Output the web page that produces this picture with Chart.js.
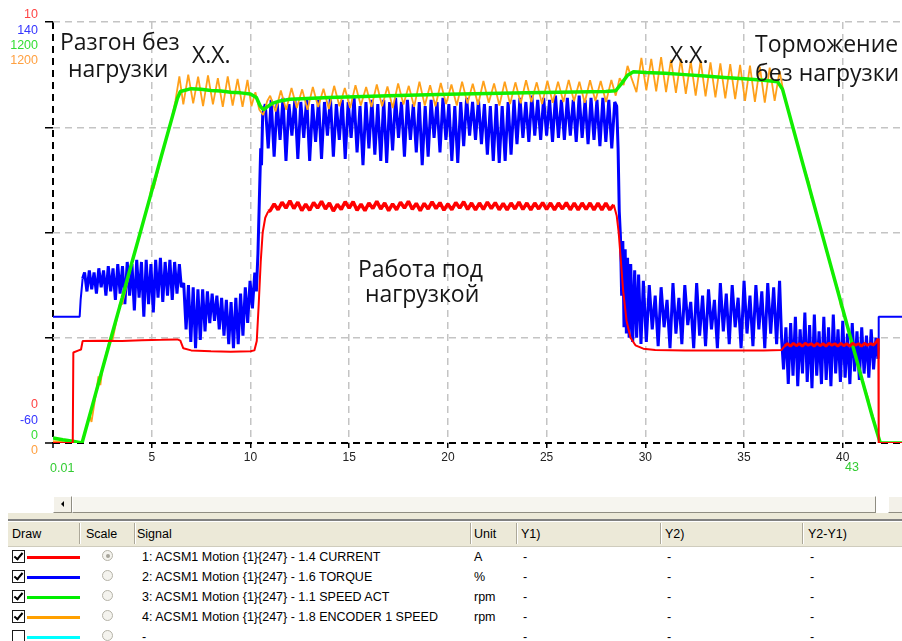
<!DOCTYPE html>
<html>
<head>
<meta charset="utf-8">
<script src="https://cdn.jsdelivr.net/npm/chart.js@4.4.1/dist/chart.umd.min.js"></script>
<style>
body { margin: 0; background: #fff; }
#wrap { position: relative; width: 902px; height: 641px; overflow: hidden; font-family: "Liberation Sans", Arial, sans-serif; }
#c { position: absolute; left: 0; top: 0; }
.note { position: absolute; font-family: "Open Sans", sans-serif; font-size: 23px; line-height: 23px; color: #161616; white-space: nowrap; }
#sbL, #sbT, #sbR { position: absolute; top: 496px; height: 15px; background: #f3f1e9; border: 1px solid #fff; border-right-color: #8f8d82; border-bottom-color: #8f8d82; }
#sbL { left: 53px; width: 17px; }
#sbL:after { content: ''; position: absolute; left: 7px; top: 4px; border-top: 3.5px solid transparent; border-bottom: 3.5px solid transparent; border-right: 3.5px solid #000; }
#sbT { left: 72px; width: 802px; background: #f6f5ef; }
#sbR { left: 888px; width: 17px; }
#strip { position: absolute; left: 8px; top: 513px; width: 894px; height: 6px; background: #ece9d8; }
#hline { position: absolute; left: 8px; top: 519px; width: 894px; height: 2px; background: #808080; }
#hdr { position: absolute; left: 8px; top: 521px; width: 894px; height: 24px; background: #ece9d8; border-top: 1px solid #fff; border-bottom: 1px solid #cfccbd; }
.sep { position: absolute; top: 523px; width: 1px; height: 21px; background: #aca899; border-right: 1px solid #fff; }
.cell { position: absolute; font-size: 12.5px; line-height: 14px; color: #000; white-space: nowrap; }
.chk { position: absolute; left: 12px; width: 11px; height: 11px; border: 1.5px solid #1a1a1a; background: #fff; }
.chk.on:after { content: ''; position: absolute; left: 3px; top: 0px; width: 3px; height: 7px; border: solid #000; border-width: 0 2px 2px 0; transform: rotate(40deg); }
.sw { position: absolute; left: 27px; width: 53px; height: 3px; }
.rad { position: absolute; left: 102px; width: 9px; height: 9px; border-radius: 50%; border: 1px solid #b5b3a8; background: #f4f3ee; }
.rad.on:after { content: ''; position: absolute; left: 2.5px; top: 2.5px; width: 4px; height: 4px; border-radius: 50%; background: #a6a49a; }
</style>
</head>
<body>
<div id="wrap">
<canvas id="c" width="902" height="480"></canvas>

<div class="note" style="left:60px;top:30px">Разгон без</div>
<div class="note" style="left:68px;top:57px">нагрузки</div>
<div class="note" style="left:192px;top:43px">Х.Х.</div>
<div class="note" style="left:670px;top:43px">Х.Х.</div>
<div class="note" style="left:755px;top:32px">Торможение</div>
<div class="note" style="left:755px;top:61px">без нагрузки</div>
<div class="note" style="left:358px;top:257px">Работа под</div>
<div class="note" style="left:365px;top:282px">нагрузкой</div>

<div id="sbL"></div><div id="sbT"></div><div id="sbR"></div>
<div id="strip"></div><div id="hline"></div><div id="hdr"></div>
<div id="table"></div>
</div>

<script>
// axis ranges of the four channels (bottom / top labels)
const currentRange = [0, 10];
const torqueRange = [-60, 140];
const speedRange = [0, 1200];
const encoderRange = [0, 1200];
const currentTicks = [0, 2.5, 5, 7.5, 10];
const xTicks = [0, 5, 10, 15, 20, 25, 30, 35, 40];
const xRange = [0, 43];
const xRangeLabels = ['0.01', '43'];

// table
const headers = ['Draw', 'Scale', 'Signal', 'Unit', 'Y1)', 'Y2)', 'Y2-Y1)'];
const signalNames = [
  '1: ACSM1 Motion {1}{247} - 1.4 CURRENT',
  '2: ACSM1 Motion {1}{247} - 1.6 TORQUE',
  '3: ACSM1 Motion {1}{247} - 1.1 SPEED ACT',
  '4: ACSM1 Motion {1}{247} - 1.8 ENCODER 1 SPEED',
  '-'
];
const signalUnits = ['A', '%', 'rpm', 'rpm', ''];
const signalColors = ['#ff0000', '#0000ff', '#00ee00', '#ffa000', '#00ffff'];
const signalDrawn = [true, true, true, true, false];

// 1.4 CURRENT, A  [time s, value]
const currentData = [
  [0,0],[1.0,0],[1.03,2.15],[1.3,2.2],[1.42,2.22],[1.5,2.42],[2.5,2.43],[3.5,2.42],[4.5,2.44],[5.5,2.45],
  [6.3,2.46],[6.45,2.43],[6.6,2.25],[7,2.2],[8,2.18],[9,2.17],[10,2.18],[10.2,2.2],[10.32,2.42],[10.42,3.3],
  [10.52,4.3],[10.62,5.0],[10.75,5.35],[10.9,5.5],
  [11.0,5.52],[11.2,5.68],[11.4,5.54],[11.6,5.72],[11.8,5.58],[12.0,5.75],[12.2,5.57],[12.4,5.72],[12.6,5.52],[12.8,5.67],
  [13.0,5.53],[13.2,5.71],[13.4,5.58],[13.6,5.74],[13.8,5.56],[14.0,5.7],[14.2,5.51],[14.4,5.67],[14.6,5.55],[14.8,5.73],
  [15.0,5.58],[15.2,5.73],[15.4,5.53],[15.6,5.67],[15.8,5.52],[16.0,5.7],[16.2,5.57],[16.4,5.74],[16.6,5.56],[16.8,5.7],
  [17.0,5.52],[17.2,5.68],[17.4,5.54],[17.6,5.72],[17.8,5.58],[18.0,5.74],[18.2,5.55],[18.4,5.69],[18.6,5.52],[18.8,5.69],
  [19.0,5.56],[19.2,5.73],[19.4,5.57],[19.6,5.71],[19.8,5.53],[20.0,5.68],[20.2,5.54],[20.4,5.71],[20.6,5.58],[20.8,5.73],
  [21.0,5.55],[21.2,5.7],[21.4,5.54],[21.6,5.7],[21.8,5.55],[22.0,5.72],[22.2,5.57],[22.4,5.71],[22.6,5.54],[22.8,5.69],
  [23.0,5.54],[23.2,5.7],[23.4,5.56],[23.6,5.72],[23.8,5.55],[24.0,5.7],[24.2,5.54],[24.4,5.7],[24.6,5.56],[24.8,5.71],
  [25.0,5.55],[25.2,5.7],[25.4,5.54],[25.6,5.7],[25.8,5.56],[26.0,5.71],[26.2,5.54],[26.4,5.7],[26.6,5.54],[26.8,5.7],
  [27.0,5.55],[27.2,5.7],[27.4,5.54],[27.6,5.7],[27.8,5.54],[28.0,5.7],[28.2,5.54],[28.4,5.66],
  [28.55,5.4],[28.65,5.0],[28.75,4.4],[28.88,3.6],[29.05,2.9],[29.25,2.5],[29.5,2.32],[29.9,2.24],[30.5,2.21],[32,2.2],
  [34,2.2],[36,2.2],[36.9,2.21],[37.05,2.3],
  [37.2,2.36],[37.35,2.3],[37.5,2.37],[37.65,2.31],[37.8,2.36],[37.95,2.3],[38.1,2.37],[38.25,2.32],[38.4,2.36],[38.55,2.3],
  [38.7,2.37],[38.85,2.31],[39,2.36],[39.15,2.3],[39.3,2.37],[39.45,2.32],[39.6,2.36],[39.75,2.3],[39.9,2.37],[40.05,2.31],
  [40.2,2.36],[40.35,2.3],[40.5,2.37],[40.65,2.32],[40.8,2.36],[40.95,2.3],[41.1,2.37],[41.25,2.32],[41.4,2.36],[41.55,2.33],
  [41.7,2.4],[41.8,2.48],[41.82,0],[43,0]
];

// 1.6 TORQUE, %
const torqueData = [
  [0,0],[1.35,0],[1.4,8],[1.5,18],
  [1.6,21],[1.72,12],[1.84,22],[1.96,13],[2.08,21],[2.2,11],[2.32,23],[2.44,14],[2.56,22],[2.68,10],[2.8,24],[2.92,12],
  [3.04,23],[3.16,8],[3.28,25],[3.4,11],[3.52,24],[3.64,6],[3.76,26],[3.88,10],[4.0,25],[4.12,3],[4.24,27],[4.36,9],
  [4.48,26],[4.6,0],[4.72,27],[4.84,6],[4.96,25],[5.08,2],[5.2,27],[5.32,9],[5.44,28],[5.56,7],[5.68,26],[5.8,10],
  [5.92,27],[6.04,8],[6.16,26],[6.28,11],[6.4,25],
  [6.5,14],[6.62,16],[6.74,-6],[6.86,15],[6.98,-12],[7.1,14],[7.22,-15],[7.34,13],[7.46,-11],[7.58,13],[7.7,-7],
  [7.82,12],[7.94,-3],[8.06,11],[8.18,-2],[8.3,10],[8.42,-6],[8.54,9],[8.66,-9],[8.78,8],[8.9,-13],[9.02,7],[9.14,-15],
  [9.26,9],[9.38,-13],[9.5,11],[9.62,-9],[9.74,14],[9.86,-3],[9.98,17],[10.1,4],[10.22,21],[10.3,12],
  [10.38,30],[10.45,55],[10.52,80],[10.56,72],[10.62,96],
  [10.75,101],[10.9,80],[11.05,103],[11.2,76],[11.35,102],[11.5,84],[11.65,104],[11.8,74],[11.95,101],[12.1,86],
  [12.25,103],[12.4,75],[12.55,102],[12.7,85],[12.85,104],[13.0,74],[13.15,101],[13.3,83],[13.45,103],[13.6,75],
  [13.75,102],[13.9,86],[14.05,104],[14.2,76],[14.35,101],[14.5,84],[14.65,103],[14.8,75],[14.95,102],[15.1,85],
  [15.25,104],[15.4,78],[15.55,100],[15.7,72],[15.85,102],[16.0,80],[16.15,103],[16.3,77],[16.45,101],[16.6,74],
  [16.75,103],[16.9,73],[17.05,102],[17.2,79],[17.35,104],[17.5,85],[17.65,102],[17.8,76],[17.95,103],[18.1,84],
  [18.25,101],[18.4,78],[18.55,102],[18.7,72],[18.85,100],[19.0,76],[19.15,103],[19.3,85],[19.45,102],[19.6,78],
  [19.75,104],[19.9,84],[20.05,101],[20.2,74],[20.35,100],[20.5,73],[20.65,102],[20.8,81],[20.95,104],[21.1,86],
  [21.25,102],[21.4,84],[21.55,103],[21.7,82],[21.85,101],[22.0,77],[22.15,100],[22.3,74],[22.45,101],[22.6,73],
  [22.75,100],[22.9,74],[23.05,102],[23.2,77],[23.35,103],[23.5,82],[23.65,104],[23.8,85],[23.95,102],[24.1,83],
  [24.25,105],[24.4,86],[24.55,103],[24.7,84],[24.85,104],[25.0,86],[25.15,103],[25.3,83],[25.45,105],[25.6,85],
  [25.75,103],[25.9,84],[26.05,104],[26.2,86],[26.35,103],[26.5,83],[26.65,105],[26.8,85],[26.95,103],[27.1,82],
  [27.25,104],[27.4,84],[27.55,103],[27.7,81],[27.85,104],[28.0,83],[28.15,103],[28.3,80],[28.45,102],
  [28.55,100],[28.62,80],[28.68,50],[28.74,38],[28.8,10],[28.86,36],[28.92,-5],[28.98,32],[29.04,-8],[29.1,28],
  [29.18,-10],[29.26,25],[29.36,-12],[29.46,22],[29.56,-10],[29.66,20],[29.78,-13],[29.9,17],
  [30.05,-12],[30.2,15],[30.35,-6],[30.5,10],[30.65,-14],[30.8,14],[30.95,-5],[31.1,8],[31.25,-15],[31.4,16],
  [31.55,-8],[31.7,9],[31.85,-13],[32.0,15],[32.15,-4],[32.3,7],[32.45,-15],[32.6,16],[32.75,-9],[32.9,10],
  [33.05,-14],[33.2,13],[33.35,-6],[33.5,8],[33.65,-15],[33.8,16],[33.95,-7],[34.1,11],[34.25,-13],[34.4,15],
  [34.55,-5],[34.7,9],[34.85,-15],[35.0,17],[35.15,-8],[35.3,10],[35.45,-14],[35.6,15],[35.75,-6],[35.9,12],
  [36.05,-15],[36.2,16],[36.35,-8],[36.5,14],[36.65,-13],[36.8,17],[36.9,-10],
  [37.0,-25],[37.12,-5],[37.24,-32],[37.36,-3],[37.48,-28],[37.6,0],[37.72,-33],[37.84,-6],[37.96,-27],[38.08,2],
  [38.2,-31],[38.32,-4],[38.44,-34],[38.56,1],[38.68,-28],[38.8,-7],[38.92,-32],[39.04,0],[39.16,-30],[39.28,-5],
  [39.4,-33],[39.52,1],[39.64,-27],[39.76,-6],[39.88,-31],[40.0,-2],[40.12,-29],[40.24,-8],[40.36,-32],[40.48,-3],
  [40.6,-26],[40.72,-7],[40.84,-30],[40.96,-5],[41.08,-27],[41.2,-9],[41.32,-29],[41.44,-6],[41.56,-25],[41.68,-10],
  [41.78,-20],[41.8,-15],[41.82,0],[43,0]
];

// 1.1 SPEED ACT, rpm
const speedData = [
  [0,14],[0.5,9],[1.0,5],[1.47,0],[2,108],[2.5,210],[3,312],[3.5,413],[4,515],[4.5,616],[5,718],[5.5,820],
  [6,921],[6.3,982],[6.45,1002],[7,1010],[7.5,1008],[8,1005],[8.5,1003],[9,1000],[9.5,998],[10,995],[10.3,985],
  [10.5,960],[10.65,950],[10.85,958],[11.1,968],[11.5,975],[12,980],[14,985],[17,990],[20,994],[24,998],[28,1002],
  [28.5,1004],[28.8,1025],[29.1,1048],[29.4,1058],[30,1056],[31,1054],[32,1050],[33,1046],[34,1042],[35,1038],
  [36,1034],[36.7,1030],[36.95,1008],[38,791],[39,586],[40,381],[41,176],[41.5,75],[41.9,0],[43,0]
];

// 1.8 ENCODER 1 SPEED, rpm
const encoderData = [
  [0,5],[0.5,3],[1.0,2],[1.47,0],[1.85,80],[1.95,60],[2.2,150],[2.3,190],[2.4,165],[2.5,210],[2.9,300],[3.0,290],
  [3.3,372],[3.4,400],[3.5,395],[4,515],[4.5,616],[4.9,700],[5.0,735],[5.1,725],[5.5,820],[6,921],[6.2,975],
  [6.4,1045],[6.6,965],[6.85,1050],[7.1,968],[7.35,1044],[7.6,960],[7.85,1048],[8.1,965],[8.35,1040],[8.6,958],
  [8.85,1045],[9.1,962],[9.35,1038],[9.6,958],[9.85,1035],[10.05,960],[10.25,1000],[10.45,950],[10.65,935],[10.85,975],
  [11.0,990],[11.27,945],[11.54,1005],[11.81,950],[12.08,1012],[12.35,955],[12.62,1008],[12.89,950],[13.16,1015],
  [13.43,958],[13.7,1010],[13.97,952],[14.24,1018],[14.51,960],[14.78,1012],[15.05,955],[15.32,1020],[15.59,962],
  [15.86,1015],[16.13,958],[16.4,1022],[16.67,960],[16.94,1016],[17.21,955],[17.48,1025],[17.75,965],[18.02,1018],
  [18.29,958],[18.56,1030],[18.83,962],[19.1,1020],[19.37,960],[19.64,1026],[19.91,966],[20.18,1022],[20.45,962],
  [20.72,1030],[20.99,968],[21.26,1024],[21.53,964],[21.8,1032],[22.07,970],[22.34,1025],[22.61,962],[22.88,1030],
  [23.15,966],[23.42,1028],[23.69,968],[23.96,1034],[24.23,972],[24.5,1028],[24.77,966],[25.04,1033],[25.31,970],
  [25.58,1030],[25.85,972],[26.12,1035],[26.39,974],[26.66,1030],[26.93,970],[27.2,1034],[27.47,975],[27.74,1032],
  [28.01,972],[28.28,1035],[28.5,990],[28.7,1040],[28.9,1020],[29.1,1075],[29.3,1040],
  [29.55,1000],[29.8,1098],[30.05,1005],[30.3,1095],[30.55,1002],[30.8,1100],[31.05,1000],[31.3,1092],[31.55,998],
  [31.8,1095],[32.05,995],[32.3,1088],[32.55,990],[32.8,1090],[33.05,988],[33.3,1085],[33.55,985],[33.8,1082],
  [34.05,982],[34.3,1080],[34.55,980],[34.8,1078],[35.05,975],[35.3,1076],[35.55,972],[35.8,1072],[36.05,970],
  [36.3,1070],[36.55,975],[36.8,1060],[37.0,1000],
  [37.5,895],[38,790],[38.3,740],[38.4,700],[38.5,690],[39,585],[39.5,480],[39.8,430],[39.9,390],[40,380],
  [40.5,275],[41,175],[41.3,125],[41.4,90],[41.5,80],[41.9,0],[43,0]
];

// table rows
(function buildTable() {
  const headX = [12, 86, 137, 474, 521, 665, 808];
  const sepX = [79, 134, 470, 516, 660, 802];
  let html = '';
  headers.forEach((h, i) => { html += '<div class="cell" style="left:' + headX[i] + 'px;top:527px">' + h + '</div>'; });
  sepX.forEach(x => { html += '<div class="sep" style="left:' + x + 'px"></div>'; });
  signalNames.forEach((name, i) => {
    const cy = 557 + i * 20;
    html += '<div class="chk' + (signalDrawn[i] ? ' on' : '') + '" style="top:' + (cy - 7) + 'px"></div>';
    html += '<div class="sw" style="top:' + (cy - 1) + 'px;background:' + signalColors[i] + '"></div>';
    html += '<div class="rad' + (i === 0 ? ' on' : '') + '" style="top:' + (cy - 7) + 'px"></div>';
    html += '<div class="cell" style="left:142px;top:' + (cy - 7) + 'px">' + name + '</div>';
    html += '<div class="cell" style="left:474px;top:' + (cy - 7) + 'px">' + signalUnits[i] + '</div>';
    [523, 667, 810].forEach(x => { html += '<div class="cell" style="left:' + x + 'px;top:' + (cy - 7) + 'px">-</div>'; });
  });
  document.getElementById('table').innerHTML = html;
})();

const labelColors = ['#ff4444', '#3535ff', '#33dd33', '#ffa040'];
const axisIds = ['yCur', 'yTrq', 'ySpd', 'yEnc'];

const axisLabels = {
  id: 'axisLabels',
  afterDraw(chart) {
    const ctx = chart.ctx;
    const topY = [15, 31, 46, 61];
    const botY = [405, 421, 436, 451];
    ctx.save();
    ctx.font = '12.5px "Liberation Sans", Arial';
    ctx.textAlign = 'right';
    ctx.textBaseline = 'middle';
    axisIds.forEach((id, i) => {
      const s = chart.scales[id];
      ctx.fillStyle = labelColors[i];
      ctx.fillText(String(s.max), 38, topY[i]);
      ctx.fillText(String(s.min), 38, botY[i]);
    });
    ctx.fillStyle = '#33cc33';
    ctx.textAlign = 'left';
    ctx.fillText(xRangeLabels[0], 50, 469);
    ctx.fillText(xRangeLabels[1], 845, 468);
    ctx.restore();
  }
};

const gridColor = c => (c.tick && c.tick.value === 0 ? '#000' : '#c4c4c4');
const gridWidth = c => (c.tick && c.tick.value === 0 ? 2 : 1.5);
// thicker pen where the current trace is a noisy band
const currentWidth = c => {
  const a = c.p0.parsed.x, b = c.p1.parsed.x;
  if (a >= 10.9 && b <= 28.45) return 3.5;
  if (a >= 37.05 && b <= 41.8) return 2.8;
  return 2;
};
// torque is a dense noisy trace: thicker pen inside the noisy stretches
const torqueWidth = c => (c.p0.parsed.x >= 1.5 && c.p1.parsed.x <= 41.8 ? 3 : 2);

new Chart(document.getElementById('c'), {
  type: 'line',
  data: {
    datasets: [
      { label: 'CURRENT', data: currentData, yAxisID: 'yCur', borderColor: '#ff0000', borderWidth: 2, segment: { borderWidth: currentWidth } },
      { label: 'SPEED ACT', data: speedData, yAxisID: 'ySpd', borderColor: '#11ee00', borderWidth: 3.5 },
      { label: 'ENCODER 1 SPEED', data: encoderData, yAxisID: 'yEnc', borderColor: '#ffa01a', borderWidth: 1.8 },
      { label: 'TORQUE', data: torqueData, yAxisID: 'yTrq', borderColor: '#0000ff', borderWidth: 2, segment: { borderWidth: torqueWidth } }
    ]
  },
  options: {
    responsive: false,
    animation: false,
    events: [],
    layout: { padding: { top: 22, left: 0, right: 0, bottom: 0 } },
    elements: { point: { radius: 0 }, line: { tension: 0, borderJoinStyle: 'bevel' } },
    plugins: { legend: { display: false }, tooltip: { enabled: false } },
    scales: {
      x: {
        type: 'linear', min: xRange[0], max: xRange[1],
        afterBuildTicks: s => { s.ticks = xTicks.map(v => ({ value: v })); },
        afterFit: s => { s.height = 37; },
        ticks: { callback: v => (v === 0 ? '' : v), color: '#222', font: { family: 'Liberation Sans', size: 12 }, padding: 2, maxRotation: 0, autoSkip: false },
        grid: { color: gridColor, lineWidth: gridWidth, tickColor: '#000', tickLength: 5, tickWidth: 1.5 },
        border: { display: false, dash: [7, 5] }
      },
      yCur: {
        type: 'linear', position: 'left', min: currentRange[0], max: currentRange[1],
        afterBuildTicks: s => { s.ticks = currentTicks.map(v => ({ value: v })); },
        afterFit: s => { s.width = 53; },
        ticks: { display: false },
        grid: { color: gridColor, lineWidth: gridWidth, tickColor: '#000', tickLength: 8, tickWidth: 1.5 },
        border: { display: false, dash: [7, 5] }
      },
      yTrq: { type: 'linear', display: false, min: torqueRange[0], max: torqueRange[1] },
      ySpd: { type: 'linear', display: false, min: speedRange[0], max: speedRange[1] },
      yEnc: { type: 'linear', display: false, min: encoderRange[0], max: encoderRange[1] }
    }
  },
  plugins: [axisLabels]
});
</script>
</body>
</html>
